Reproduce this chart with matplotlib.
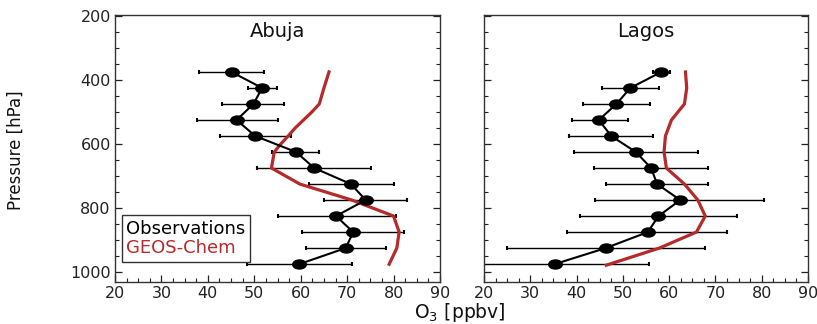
import matplotlib
matplotlib.use("Agg")
import matplotlib.pyplot as plt
from matplotlib.markers import MarkerStyle
from matplotlib.transforms import Affine2D
from matplotlib.ticker import MultipleLocator, FixedLocator
import numpy as np

plt.rcParams['font.family'] = ['DejaVu Sans']

pressure = [375, 425, 475, 525, 575, 625, 675, 725, 775, 825, 875, 925, 975]

abuja_obs = [45.1, 51.7, 49.8, 46.2, 50.2, 59.0, 62.9, 70.8, 74.0, 67.6, 71.3, 69.7, 59.7]
abuja_lo = [38.1, 48.7, 43.0, 37.6, 42.6, 53.9, 50.5, 61.8, 65.0, 55.0, 60.2, 61.1, 48.4]
abuja_hi = [52.1, 54.8, 56.5, 55.0, 57.9, 64.0, 75.1, 80.0, 82.8, 80.5, 82.3, 78.3, 71.1]
abuja_geos_p = [370, 425, 475, 500, 525, 550, 575, 600, 625, 675, 725, 775, 825, 875, 925, 980]
abuja_geos = [66.2, 65.0, 64.0, 62.4, 60.6, 58.8, 57.3, 55.7, 54.3, 53.7, 59.8, 71.0, 80.0, 81.2, 80.7, 78.9]

lagos_obs = [58.3, 51.6, 48.6, 44.8, 47.5, 52.8, 56.1, 57.4, 62.4, 57.7, 55.4, 46.3, 35.3]
lagos_lo = [56.5, 45.5, 41.4, 39.1, 38.4, 39.4, 43.8, 46.3, 44.0, 40.7, 38.0, 25.0, 15.0]
lagos_hi = [60.2, 57.8, 55.9, 51.1, 56.6, 66.2, 68.5, 68.5, 80.6, 74.6, 72.6, 67.7, 55.6]
lagos_geos_p = [370, 425, 475, 525, 575, 625, 675, 725, 775, 825, 875, 925, 980]
lagos_geos = [63.5, 63.8, 63.3, 60.5, 59.2, 58.9, 59.4, 63.3, 66.2, 67.8, 65.9, 57.9, 46.1]

RED = '#b52a2a'
W, H = 817, 324
fig = plt.figure(figsize=(W / 100, H / 100), dpi=100)
ax1 = fig.add_axes([115 / W, 1 - 282 / H, 325 / W, 267 / H])
ax2 = fig.add_axes([484 / W, 1 - 282 / H, 324 / W, 267 / H])

ell = MarkerStyle('o', transform=Affine2D().scale(1.5, 1.0))

def panel(ax, title, obs, lo, hi, gp, gv):
    xerr = [np.array(obs) - np.array(lo), np.array(hi) - np.array(obs)]
    ax.errorbar(obs, pressure, xerr=xerr, fmt='none', ecolor='black',
                elinewidth=1.0, capsize=1.5, capthick=1.5, zorder=2)
    ax.plot(gv, gp, color=RED, lw=2.3, zorder=3, solid_capstyle='butt')
    ax.plot(obs, pressure, color='black', lw=1.5, marker=ell, ms=6.5,
            zorder=4)
    ax.set_xlim(20, 90)
    ax.set_ylim(1031, 197)
    ax.xaxis.set_major_locator(MultipleLocator(10))
    ax.xaxis.set_minor_locator(MultipleLocator(2.5))
    ax.yaxis.set_major_locator(FixedLocator([200, 400, 600, 800, 1000]))
    ax.yaxis.set_minor_locator(MultipleLocator(50))
    ax.tick_params(axis='both', which='both', direction='in', top=False,
                   right=True, labelsize=11.5, colors='#222222', pad=3)
    ax.tick_params(which='major', length=5, width=0.9)
    ax.tick_params(which='minor', length=3, width=0.8)
    for s in ax.spines.values():
        s.set_color('#333333')
        s.set_linewidth(1.0)
    ax.text(0.5, 0.975, title, transform=ax.transAxes, ha='center',
            va='top', fontsize=14, color='#111111')

panel(ax1, 'Abuja', abuja_obs, abuja_lo, abuja_hi, abuja_geos_p, abuja_geos)
panel(ax2, 'Lagos', lagos_obs, lagos_lo, lagos_hi, lagos_geos_p, lagos_geos)
ax2.tick_params(axis='y', labelleft=False)

h1, = ax1.plot([], [], color='none')
h2, = ax1.plot([], [], color='none')
leg = ax1.legend([h1, h2], ['Observations', 'GEOS-Chem'], loc='lower left',
                 bbox_to_anchor=(0.02, 0.075), handlelength=0, handletextpad=0,
                 fontsize=13, fancybox=False, framealpha=1, borderpad=0.25,
                 labelspacing=0.1, borderaxespad=0)
leg.get_frame().set_edgecolor('#333333')
leg.get_frame().set_linewidth(1.0)
leg.get_texts()[0].set_color('black')
leg.get_texts()[1].set_color(RED)

fig.text(16 / W, 1 - 150 / H, 'Pressure [hPa]', rotation=90, ha='center',
         va='center', fontsize=12, color='#111111')
fig.text(460 / W, 1 - 312 / H, 'O$_3$ [ppbv]', ha='center', va='center',
         fontsize=13.5, color='#111111')

fig.savefig('out.png', dpi=100)
